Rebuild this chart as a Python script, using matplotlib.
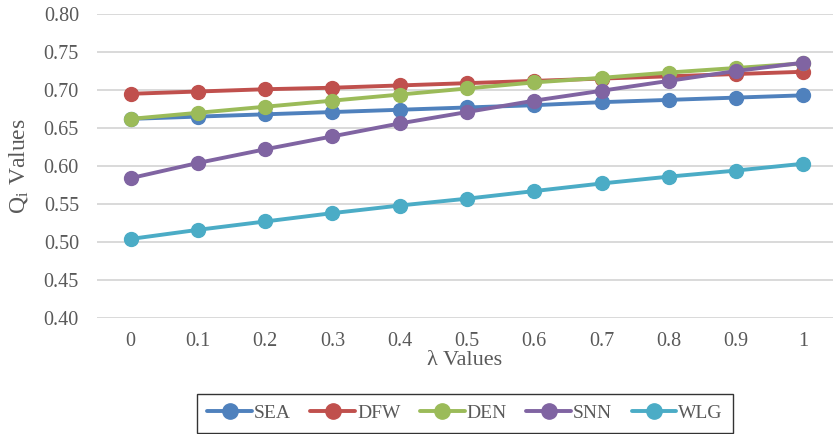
import matplotlib
matplotlib.use("Agg")
import matplotlib.pyplot as plt

# lambda sweep and Q_i per airport
lambdas = ["0", "0.1", "0.2", "0.3", "0.4", "0.5", "0.6", "0.7", "0.8", "0.9", "1"]
sea = [0.662, 0.665, 0.668, 0.671, 0.674, 0.677, 0.680, 0.684, 0.687, 0.690, 0.693]
dfw = [0.695, 0.698, 0.701, 0.703, 0.706, 0.709, 0.712, 0.715, 0.718, 0.721, 0.724]
den = [0.662, 0.670, 0.678, 0.686, 0.694, 0.702, 0.710, 0.716, 0.723, 0.729, 0.735]
snn = [0.584, 0.604, 0.622, 0.639, 0.656, 0.671, 0.686, 0.699, 0.712, 0.725, 0.736]
wlg = [0.504, 0.516, 0.527, 0.538, 0.548, 0.557, 0.567, 0.577, 0.586, 0.594, 0.603]
yticks = [0.40, 0.45, 0.50, 0.55, 0.60, 0.65, 0.70, 0.75, 0.80]

series = [
    ("SEA", sea, "#4F81BD"),
    ("DFW", dfw, "#C0504D"),
    ("DEN", den, "#9BBB59"),
    ("SNN", snn, "#8064A2"),
    ("WLG", wlg, "#4BACC6"),
]

plt.rcParams["font.family"] = ["Liberation Serif", "DejaVu Serif"]
plt.rcParams["mathtext.fontset"] = "stix"
txt = "#595959"

W, H = 833, 434
fig = plt.figure(figsize=(W / 100, H / 100), dpi=100)
ax = fig.add_axes([97 / W, 1 - 318 / H, (W - 97) / W, 304 / H])

x = list(range(len(lambdas)))
for name, vals, col in series:
    ax.plot(x, vals, color=col, lw=2.8, marker="o", ms=10, label=name,
            solid_capstyle="round")

ax.set_xlim(-0.5, 10.44)
ax.set_ylim(0.40, 0.80)
ax.set_yticks(yticks)
ax.set_yticklabels([f"{v:.2f}" for v in yticks])
ax.set_xticks(x)
ax.set_xticklabels(lambdas)
ax.tick_params(length=0, labelsize=14.5, colors=txt)
ax.tick_params(axis="x", pad=10)
ax.tick_params(axis="y", pad=13)
ax.grid(axis="y", color="#D9D9D9", lw=1.4)
ax.set_axisbelow(True)
for s in ax.spines.values():
    s.set_visible(False)

ax.set_xlabel("λ Values", fontsize=16, color=txt, labelpad=0)
ax.set_ylabel(r"Q$_\mathregular{i}$ Values", fontsize=17, color=txt, labelpad=10)

leg = fig.legend(loc="upper center", bbox_to_anchor=(465 / W, 1 - 384 / H),
                 ncol=5, fontsize=14, frameon=True, fancybox=False,
                 handlelength=2.3, columnspacing=1.0, handletextpad=0.1,
                 borderpad=0.55, labelcolor=txt, markerscale=1.1)
leg.get_frame().set_edgecolor("black")
leg.get_frame().set_linewidth(1.0)

fig.savefig("out.png", dpi=100)
